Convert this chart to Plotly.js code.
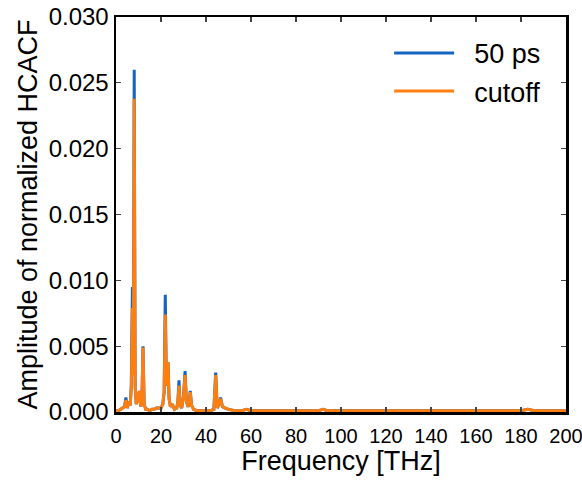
<!DOCTYPE html>
<html>
<head>
<meta charset="utf-8">
<script src="https://cdn.plot.ly/plotly-3.0.1.min.js"></script>
<style>html,body{margin:0;padding:0;background:#fff;}#chart{width:582px;height:483px;}</style>
</head>
<body>
<div id="chart"></div>
<script>
const freq = [0, 1, 2, 3, 3.8, 4.4, 5.0, 5.5, 5.9, 6.3, 6.8, 7.3, 7.7, 8.1, 8.5, 9.0, 9.6, 10.4, 11.0, 11.5, 12.0, 12.5, 13.2, 14, 15, 16, 17, 18, 19, 20, 20.8, 21.4, 21.9, 22.4, 23.1, 23.6, 24.2, 25, 26, 27, 27.5, 28, 28.5, 29.2, 30, 30.7, 31.3, 32, 32.5, 33, 33.6, 34.5, 36, 38, 40, 42, 43.5, 44.3, 45, 45.8, 46.5, 47.3, 48.5, 50, 53, 56, 58, 60, 65, 70, 75, 80, 85, 90, 92, 94, 100, 110, 120, 130, 140, 150, 160, 170, 180, 183, 186, 190, 200];
const amp50ps = [0.0001, 0.0001, 0.0002, 0.0003, 0.0004, 0.0011, 0.0003, 0.0006, 0.0008, 0.0005, 0.0020, 0.0095, 0.0030, 0.0260, 0.0020, 0.0006, 0.0009, 0.0016, 0.0004, 0.0008, 0.0050, 0.0006, 0.0002, 0.0002, 0.0001, 0.0002, 0.0002, 0.0003, 0.0003, 0.0003, 0.0006, 0.0015, 0.0089, 0.0020, 0.0038, 0.0010, 0.0004, 0.0006, 0.0002, 0.0003, 0.0008, 0.0024, 0.0005, 0.0003, 0.0012, 0.0031, 0.0008, 0.0004, 0.0006, 0.0016, 0.0005, 0.0002, 0.0001, 0.0001, 0.0001, 0.0001, 0.0002, 0.0030, 0.0003, 0.0006, 0.0011, 0.0004, 0.0003, 0.0002, 0.0001, 0.0001, 0.0002, 0.0001, 0.0001, 0.0001, 0.0001, 0.0001, 0.0001, 0.0001, 0.0002, 0.0001, 0.0001, 0.0001, 0.0001, 0.0001, 0.0001, 0.0001, 0.0001, 0.0001, 0.0001, 0.0002, 0.0001, 0.0001, 0.0001];
const ampCutoff = [0.0001, 0.0001, 0.0002, 0.0003, 0.0004, 0.0009, 0.0003, 0.0006, 0.0008, 0.0005, 0.0018, 0.0079, 0.0028, 0.0238, 0.0020, 0.0006, 0.0009, 0.0016, 0.0004, 0.0008, 0.0049, 0.0006, 0.0002, 0.0002, 0.0001, 0.0002, 0.0002, 0.0003, 0.0003, 0.0003, 0.0006, 0.0015, 0.0074, 0.0020, 0.0038, 0.0010, 0.0004, 0.0006, 0.0002, 0.0003, 0.0008, 0.0020, 0.0005, 0.0003, 0.0012, 0.0028, 0.0008, 0.0004, 0.0006, 0.0015, 0.0005, 0.0002, 0.0001, 0.0001, 0.0001, 0.0001, 0.0002, 0.0028, 0.0003, 0.0006, 0.0010, 0.0004, 0.0003, 0.0002, 0.0001, 0.0001, 0.0002, 0.0001, 0.0001, 0.0001, 0.0001, 0.0001, 0.0001, 0.0001, 0.0002, 0.0001, 0.0001, 0.0001, 0.0001, 0.0001, 0.0001, 0.0001, 0.0001, 0.0001, 0.0001, 0.0002, 0.0001, 0.0001, 0.0001];
const seriesNames = ['50 ps', 'cutoff'];
const xTicks = [0, 20, 40, 60, 80, 100, 120, 140, 160, 180, 200];
const yTicks = [0, 0.005, 0.010, 0.015, 0.020, 0.025, 0.030];

const font = 'Liberation Sans, Arial, sans-serif';
const gap = '\u00a0\u00a0';
const traces = [
  {x: freq, y: amp50ps, name: gap + seriesNames[0], legendgroup: 'a', type: 'scatter', mode: 'lines', line: {color: '#1565c0', width: 3}},
  {x: freq, y: ampCutoff, name: gap + seriesNames[1], legendgroup: 'b', type: 'scatter', mode: 'lines', line: {color: '#ff7f0e', width: 3}}
];
const axisCommon = {
  showgrid: false, zeroline: false, showline: true, linecolor: '#000', linewidth: 2.5,
  mirror: 'allticks', ticks: 'inside', ticklen: 5, tickwidth: 1.2, tickcolor: '#444'
};
const layout = {
  width: 582, height: 483,
  margin: {l: 116, r: 16, t: 17, b: 71},
  paper_bgcolor: '#fff', plot_bgcolor: '#fff',
  showlegend: true,
  legend: {x: 0.607, y: 0.97, xanchor: 'left', yanchor: 'top', bgcolor: 'rgba(0,0,0,0)',
           font: {family: font, size: 27, color: '#000'}, itemwidth: 60, tracegroupgap: 0, traceorder: 'grouped'},
  xaxis: Object.assign({}, axisCommon, {range: [0, 200], tickvals: xTicks, ticktext: xTicks.map(String),
           tickfont: {family: font, size: 20, color: '#000'}, ticklabeloverflow: 'allow', ticklabelstandoff: 4,
           title: {text: 'Frequency [THz]', font: {family: font, size: 27, color: '#000'}, standoff: 5}}),
  yaxis: Object.assign({}, axisCommon, {range: [0, 0.03], tickvals: yTicks, ticktext: yTicks.map(v => v.toFixed(3)),
           tickfont: {family: font, size: 24, color: '#000'},
           title: {text: 'Amplitude of normalized HCACF', font: {family: font, size: 27, color: '#000'}, standoff: 3}})
};
Plotly.newPlot('chart', traces, layout, {displayModeBar: false, staticPlot: true});
</script>
</body>
</html>
